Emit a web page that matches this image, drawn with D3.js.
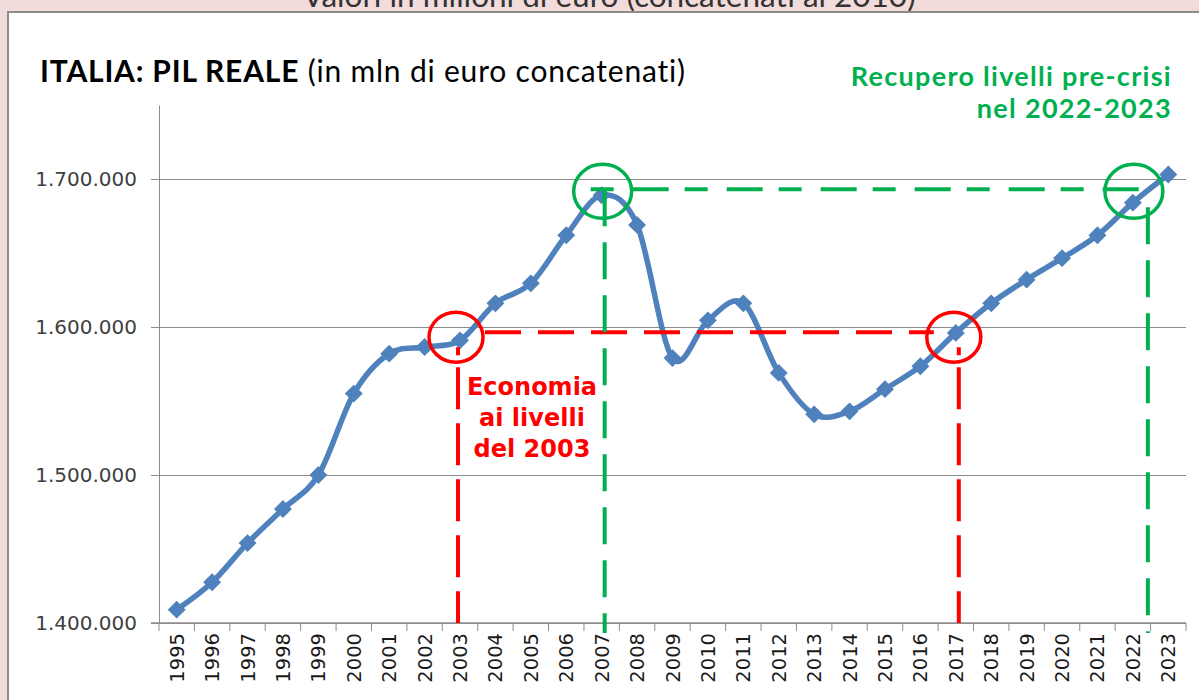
<!DOCTYPE html>
<html>
<head>
<meta charset="utf-8">
<script src="https://cdn.jsdelivr.net/npm/d3@7"></script>
<style>
  html, body { margin: 0; padding: 0; background: #f2dcdb; overflow: hidden; }
  svg { display: block; }
</style>
</head>
<body>
<div id="chart"></div>
<script>
// categories and series values (PIL reale, mln di euro concatenati)
const years = ['1995','1996','1997','1998','1999','2000','2001','2002','2003','2004',
               '2005','2006','2007','2008','2009','2010','2011','2012','2013','2014',
               '2015','2016','2017','2018','2019','2020','2021','2022','2023'];
const gdp = [1409000, 1427500, 1454000, 1477000, 1500000, 1555000, 1582000, 1586500, 1591000, 1616000,
             1629500, 1662000, 1689000, 1669000, 1579000, 1604500, 1616000, 1569000, 1541000, 1543000,
             1558000, 1573500, 1596000, 1616000, 1632000, 1646500, 1662000, 1684000, 1703000];
const yTicks = [1400000, 1500000, 1600000, 1700000];

// annotation levels
const redLevel = 1596500;     // livello 2003
const greenLevel = 1693000;   // livello pre-crisi 2007
const redMarks = ['2003', '2017'];
const greenMarks = ['2007', '2022'];

const width = 1199, height = 700;
const margin = {top: 105, left: 159, bottom: 77};
const plotRight = 1186;
const blue = '#4f81bd', red = '#ff0000', green = '#00b050';

const it = d3.formatLocale({decimal: ',', thousands: '.', grouping: [3], currency: ['€', '']});
const fmt = it.format(',d');

const svg = d3.select('#chart').append('svg')
    .attr('width', width)
    .attr('height', height);

// heading above the panel (cut by the top edge, as in the original)
svg.append('text')
    .attr('x', 609).attr('y', 7)
    .attr('text-anchor', 'middle')
    .attr('font-family', 'Lato, sans-serif')
    .attr('font-size', 31.5)
    .attr('fill', '#333')
    .text('Valori in milioni di euro (concatenati al 2010)');

// white chart panel on pink background
svg.append('rect')
    .attr('x', 8).attr('y', 12)
    .attr('width', 1300).attr('height', 800)
    .attr('fill', '#fff')
    .attr('stroke', '#8c8c8c')
    .attr('stroke-width', 2);

const x = d3.scaleBand()
    .domain(years)
    .range([margin.left, plotRight])
    .paddingInner(0).paddingOuter(0);

const y = d3.scaleLinear()
    .domain([1400000, 1750000])
    .range([height - margin.bottom, margin.top]);

const cx = d => x(d) + x.bandwidth() / 2;

// title
const title = svg.append('text')
    .attr('x', 40).attr('y', 82)
    .attr('font-family', 'Lato, sans-serif')
    .attr('font-size', 30)
    .attr('letter-spacing', 0.8)
    .attr('fill', '#000');
title.append('tspan').attr('font-weight', 'bold').text('ITALIA: PIL REALE');
title.append('tspan').text(' (in mln di euro concatenati)');

// gridlines
svg.append('g')
    .attr('transform', `translate(${margin.left},0)`)
    .call(d3.axisLeft(y).tickValues(yTicks).tickSize(-(plotRight - margin.left)).tickFormat(''))
    .call(g => g.select('.domain').remove())
    .call(g => g.selectAll('line').attr('stroke', '#8c8c8c').attr('stroke-width', 1));

// y axis
svg.append('g')
    .attr('transform', `translate(${margin.left},0)`)
    .call(d3.axisLeft(y).tickValues(yTicks).tickSize(8).tickSizeOuter(0).tickPadding(14).tickFormat(fmt))
    .call(g => g.select('.domain').attr('stroke', '#8c8c8c'))
    .call(g => g.selectAll('line').attr('stroke', '#8c8c8c'))
    .call(g => g.selectAll('text')
        .attr('font-family', '"DejaVu Sans", sans-serif')
        .attr('font-size', 20)
        .attr('fill', '#404040'));

// x axis: labels at category centres, ticks between categories
const xAxisG = svg.append('g')
    .attr('transform', `translate(0,${y(1400000)})`)
    .call(d3.axisBottom(x).tickSize(0).tickSizeOuter(0).tickPadding(10))
    .call(g => g.select('.domain').remove())
    .call(g => g.selectAll('text')
        .attr('transform', 'rotate(-90)')
        .attr('text-anchor', 'end')
        .attr('dy', '0.36em')
        .attr('x', -10).attr('y', 0)
        .attr('font-family', '"DejaVu Sans", sans-serif')
        .attr('font-size', 19.5)
        .attr('fill', '#1a1a1a'));

xAxisG.append('line')
    .attr('x1', margin.left - 8).attr('x2', plotRight)
    .attr('stroke', '#8c8c8c').attr('stroke-width', 1.5);

xAxisG.selectAll('.bound')
    .data(years.concat(['end']))
    .join('line')
    .attr('class', 'bound')
    .attr('x1', (d, i) => margin.left + i * x.step())
    .attr('x2', (d, i) => margin.left + i * x.step())
    .attr('y1', 0).attr('y2', 8)
    .attr('stroke', '#8c8c8c');

// series
const line = d3.line()
    .x((d, i) => cx(years[i]))
    .y(d => y(d))
    .curve(d3.curveCatmullRom.alpha(0));

svg.append('path')
    .datum(gdp)
    .attr('fill', 'none')
    .attr('stroke', blue)
    .attr('stroke-width', 5.5)
    .attr('stroke-linejoin', 'round')
    .attr('stroke-linecap', 'round')
    .attr('d', line);

svg.selectAll('.pt')
    .data(gdp)
    .join('path')
    .attr('class', 'pt')
    .attr('d', d3.symbol(d3.symbolSquare, 160))
    .attr('transform', (d, i) => `translate(${cx(years[i])},${y(d)}) rotate(45)`)
    .attr('fill', blue);

// annotations: dashed reference lines
const dash = '37,16';
const axisY = y(1400000);

// red: 2003 -> 2017
svg.append('line')
    .attr('x1', cx('2003') + 25).attr('x2', cx('2017') - 22)
    .attr('y1', y(redLevel)).attr('y2', y(redLevel))
    .attr('stroke', red).attr('stroke-width', 4).attr('stroke-dasharray', '36,17');
svg.selectAll('.rv')
    .data(redMarks)
    .join('line')
    .attr('class', 'rv')
    .attr('x1', (d, i) => cx(d) + (i ? 3 : -2))
    .attr('x2', (d, i) => cx(d) + (i ? 3 : -2))
    .attr('y1', y(redLevel) + 15).attr('y2', axisY)
    .attr('stroke', red).attr('stroke-width', 4).attr('stroke-dasharray', '8,12,42,14,42,14,42,14,42,14,42,14,42,14');

// green: 2007 -> 2022
svg.append('line')
    .attr('x1', cx('2007') - 11).attr('x2', cx('2022') + 11)
    .attr('y1', y(greenLevel)).attr('y2', y(greenLevel))
    .attr('stroke', green).attr('stroke-width', 4).attr('stroke-dasharray', '23,19,36,16');
svg.selectAll('.gv')
    .data(greenMarks)
    .join('line')
    .attr('class', 'gv')
    .attr('x1', (d, i) => cx(d) + (i ? 15 : 3))
    .attr('x2', (d, i) => cx(d) + (i ? 15 : 3))
    .attr('y1', (d, i) => y(greenLevel) + (i ? 18 : 0)).attr('y2', axisY + 10)
    .attr('stroke', green).attr('stroke-width', 4).attr('stroke-dasharray', dash);

// circles
svg.selectAll('.rc')
    .data(redMarks)
    .join('ellipse')
    .attr('class', 'rc')
    .attr('cx', (d, i) => cx(d) - (i ? 2 : 4))
    .attr('cy', y(redLevel) + 5)
    .attr('rx', 27).attr('ry', 25)
    .attr('fill', 'none').attr('stroke', red).attr('stroke-width', 3.5);

svg.selectAll('.gc')
    .data(greenMarks)
    .join('ellipse')
    .attr('class', 'gc')
    .attr('cx', d => cx(d) + 1)
    .attr('cy', y(greenLevel) + 2)
    .attr('rx', 29).attr('ry', 27)
    .attr('fill', 'none').attr('stroke', green).attr('stroke-width', 3.5);

// annotation texts
const redText = svg.append('text')
    .attr('text-anchor', 'middle')
    .attr('font-family', '"DejaVu Sans", sans-serif')
    .attr('font-weight', 'bold')
    .attr('font-size', 24)
    .attr('fill', red);
['Economia', 'ai livelli', 'del 2003'].forEach((t, i) => {
    redText.append('tspan').attr('x', 532).attr('y', 395 + i * 31).text(t);
});

const greenText = svg.append('text')
    .attr('text-anchor', 'end')
    .attr('font-family', 'Lato, sans-serif')
    .attr('font-weight', 'bold')
    .attr('font-size', 27)
    .attr('letter-spacing', 1.3)
    .attr('fill', green);
['Recupero livelli pre-crisi', 'nel 2022-2023'].forEach((t, i) => {
    greenText.append('tspan').attr('x', 1172).attr('y', 86 + i * 32).text(t);
});
</script>
</body>
</html>
